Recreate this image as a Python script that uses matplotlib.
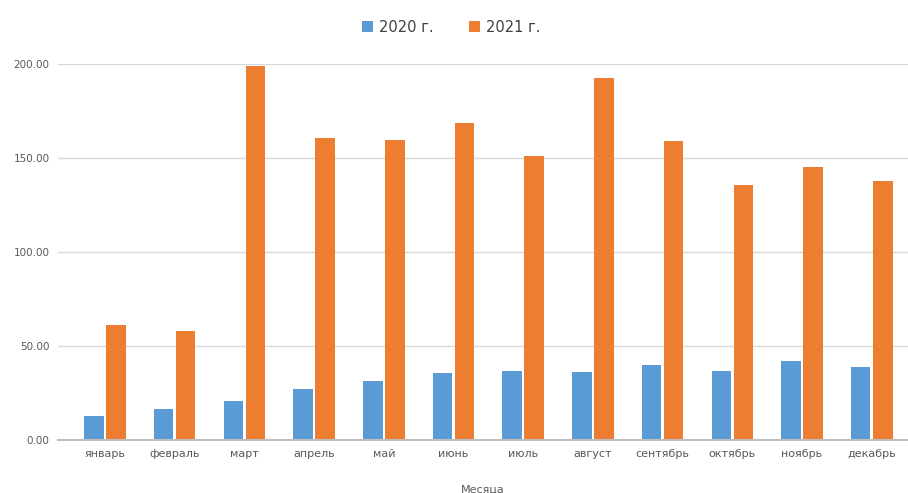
import matplotlib
matplotlib.use("Agg")
import matplotlib.pyplot as plt
import numpy as np
from matplotlib.patches import Patch
from matplotlib.ticker import FormatStrFormatter

months = ["январь", "февраль", "март", "апрель", "май", "июнь",
          "июль", "август", "сентябрь", "октябрь", "ноябрь", "декабрь"]
values_2020 = [12.5, 16.3, 20.7, 27.0, 31.2, 35.6, 36.7, 35.8, 39.8, 36.7, 42.0, 38.6]
values_2021 = [61.0, 57.8, 199.0, 160.6, 159.8, 168.8, 150.8, 192.4, 159.2, 135.8, 145.2, 137.8]
series_labels = ["2020 г.", "2021 г."]
y_ticks = [0, 50, 100, 150, 200]

blue = "#5B9BD5"
orange = "#ED7D31"
text_gray = "#595959"

fig = plt.figure(figsize=(9.08, 4.93), dpi=100)
ax = fig.add_axes([0.0639, 0.1085, 0.9361, 0.7615])

x = np.arange(len(months))
w = 0.28
off = 0.158
ax.bar(x - off, values_2020, width=w, color=blue, zorder=3)
ax.bar(x + off, values_2021, width=w, color=orange, zorder=3)

ax.set_xlim(-0.674, 11.52)
ax.set_ylim(0, 200)
ax.set_yticks(y_ticks)
ax.yaxis.set_major_formatter(FormatStrFormatter("%.2f"))
ax.grid(axis="y", color="#D9D9D9", linewidth=1.0, zorder=0)
ax.set_axisbelow(True)

for s in ["top", "right", "left"]:
    ax.spines[s].set_visible(False)
ax.spines["bottom"].set_color("#BFBFBF")
ax.spines["bottom"].set_linewidth(1.5)
ax.spines["bottom"].set_zorder(4)

ax.set_xticks(x)
ax.set_xticklabels(months)
ax.tick_params(axis="x", length=0, pad=7, labelsize=8, labelcolor=text_gray)
ax.tick_params(axis="y", length=0, pad=6, labelsize=7.5, labelcolor=text_gray)
ax.set_xlabel("Месяца", fontsize=8, color=text_gray, labelpad=18)

handles = [Patch(facecolor=blue), Patch(facecolor=orange)]
fig.legend(handles, series_labels, loc="center", bbox_to_anchor=(0.497, 0.945),
           ncol=2, frameon=False, fontsize=10.5, labelcolor="#404040",
           handlelength=0.75, handleheight=0.75, handletextpad=0.45, columnspacing=2.4)

fig.savefig("out.png", dpi=100)
